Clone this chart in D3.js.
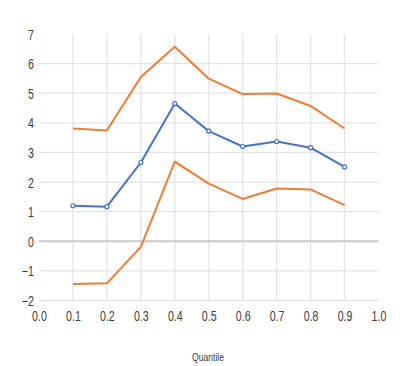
<!DOCTYPE html>
<html>
<head>
<meta charset="utf-8">
<script src="https://cdn.jsdelivr.net/npm/d3@7"></script>
<style>
  html, body { margin: 0; padding: 0; background: #fff; }
  svg { display: block; }
  .tick text { font-family: "Liberation Sans", Arial, sans-serif; fill: #3a3a3a; }
</style>
</head>
<body>
<svg id="chart" width="408" height="366"></svg>
<script>
// Quantile regression estimates with upper / lower confidence bounds
const quantiles = [0.1, 0.2, 0.3, 0.4, 0.5, 0.6, 0.7, 0.8, 0.9];
const estimate  = [1.20, 1.17, 2.66, 4.65, 3.72, 3.20, 3.37, 3.16, 2.51];
const upperBand = [3.81, 3.74, 5.55, 6.57, 5.49, 4.97, 4.99, 4.57, 3.81];
const lowerBand = [-1.44, -1.42, -0.19, 2.69, 1.95, 1.43, 1.78, 1.75, 1.22];
const xTicks = [0.0, 0.1, 0.2, 0.3, 0.4, 0.5, 0.6, 0.7, 0.8, 0.9, 1.0];
const yTicks = [-2, -1, 0, 1, 2, 3, 4, 5, 6, 7];
const xTitle = "Quantile";

const svg = d3.select("#chart");
const x = d3.scaleLinear().domain([0, 1]).range([39, 378.5]);
const y = d3.scaleLinear().domain([-2, 7]).range([300.5, 34]);
const narrow = "scale(0.76,1)";

// horizontal gridlines
svg.append("g").selectAll("line")
  .data(yTicks.filter(v => v !== 0 && v !== 7))
  .join("line")
  .attr("x1", x(0)).attr("x2", x(1))
  .attr("y1", d => y(d)).attr("y2", d => y(d))
  .attr("stroke", "#e3e3e3").attr("stroke-width", 1.3);

// vertical gridlines
svg.append("g").selectAll("line")
  .data(xTicks.filter(v => v > 0 && v < 1))
  .join("line")
  .attr("x1", d => x(d)).attr("x2", d => x(d))
  .attr("y1", y(7)).attr("y2", y(-2))
  .attr("stroke", "#e3e3e3").attr("stroke-width", 1.3);

// zero line
svg.append("line")
  .attr("x1", x(0)).attr("x2", x(1))
  .attr("y1", y(0)).attr("y2", y(0))
  .attr("stroke", "#c8c8c8").attr("stroke-width", 2);

// axes (labels only)
const yAxis = svg.append("g")
  .attr("transform", `translate(${x(0) - 5},0)`)
  .call(d3.axisLeft(y).tickValues(yTicks).tickSize(0).tickPadding(0).tickFormat(d3.format("d")));
yAxis.select(".domain").remove();
yAxis.selectAll("text").attr("font-size", 14).attr("dy", "0.36em").attr("transform", narrow);

const xAxis = svg.append("g")
  .attr("transform", `translate(0,${y(-2) + 11})`)
  .call(d3.axisBottom(x).tickValues(xTicks).tickSize(0).tickPadding(0).tickFormat(d3.format(".1f")));
xAxis.select(".domain").remove();
xAxis.selectAll("text").attr("font-size", 14).attr("dy", "0.71em").attr("transform", narrow);

svg.append("text")
  .attr("transform", "translate(208,361) scale(0.78,1)")
  .attr("text-anchor", "middle")
  .attr("font-family", "\"Liberation Sans\", Arial, sans-serif")
  .attr("font-size", 11).attr("fill", "#3a3a3a")
  .text(xTitle);

const line = d3.line().x(d => x(d[0])).y(d => y(d[1]));
const pairs = vals => quantiles.map((q, i) => [q, vals[i]]);

[upperBand, lowerBand].forEach(vals => {
  svg.append("path")
    .datum(pairs(vals))
    .attr("d", line)
    .attr("fill", "none")
    .attr("stroke", "#ED7D31")
    .attr("stroke-width", 2)
    .attr("stroke-linejoin", "round");
});

svg.append("path")
  .datum(pairs(estimate))
  .attr("d", line)
  .attr("fill", "none")
  .attr("stroke", "#4472C4")
  .attr("stroke-width", 2)
  .attr("stroke-linejoin", "round");

svg.append("g").selectAll("circle")
  .data(pairs(estimate))
  .join("circle")
  .attr("cx", d => x(d[0])).attr("cy", d => y(d[1]))
  .attr("r", 2)
  .attr("fill", "#fff")
  .attr("stroke", "#4472C4")
  .attr("stroke-width", 1.2);
</script>
</body>
</html>
